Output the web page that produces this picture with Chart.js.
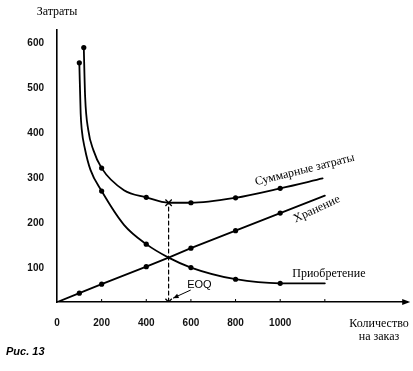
<!DOCTYPE html>
<html><head><meta charset="utf-8">
<script src="https://cdn.jsdelivr.net/npm/chart.js@4/dist/chart.umd.min.js"></script>
<style>html,body{margin:0;padding:0;background:#fff}#wrap{width:413px;height:371px;position:relative}canvas{display:block}</style>
</head><body><div id="wrap"><canvas id="c" width="413" height="371"></canvas></div>
<script>
// ---- data ----
const xTicks = [0, 200, 400, 600, 800, 1000, 1200];
const xTickLabels = ['0', '200', '400', '600', '800', '1000', ''];
const yTicks = [100, 200, 300, 400, 500, 600];

const totalQ    = [120, 126, 140, 163, 200, 300, 400, 500, 600, 800, 1000, 1190];
const totalCost = [590, 481, 407, 362, 322, 273, 257, 245, 245, 256, 277, 299];
const totalDots = [120, 200, 400, 600, 800, 1000];

const holdQ    = [0, 100, 200, 400, 500, 600, 800, 1000, 1200];
const holdCost = [24, 44, 64, 103, 123, 144, 183, 222, 261];
const holdDots = [100, 200, 400, 600, 800, 1000];

const orderQ    = [100, 106, 111, 125, 150, 200, 300, 400, 500, 600, 800, 1000, 1200];
const orderCost = [556, 444, 407, 365, 318, 271, 196, 153, 123, 101, 75, 66, 66];
const orderDots = [100, 200, 400, 600, 800, 1000];

const eoqQ = 500;
const eoqTotal = 245;
const yMin = 24.4, yMax = 629, xMax = 1569;

const seriesNames = ['Суммарные затраты', 'Хранение', 'Приобретение'];
const yTitle = 'Затраты';
const xTitle = ['Количество', 'на заказ'];
const eoqLabel = 'EOQ';
const caption = 'Рис. 13';

// ---- build ----
const pts = (xs, ys) => xs.map((x, i) => ({x, y: ys[i]}));
const dotR = list => ctx => (ctx.raw && list.includes(ctx.raw.x)) ? 2.6 : 0;

function lineDs(label, xs, ys, dots, tension) {
  return {
    label, data: pts(xs, ys), showLine: true,
    borderColor: '#000', backgroundColor: '#000', borderWidth: 1.8,
    cubicInterpolationMode: tension ? 'monotone' : 'default', tension: 0,
    pointRadius: dotR(dots), pointHoverRadius: 0, pointBorderWidth: 0,
    pointBackgroundColor: '#000'
  };
}

const serif = '"Liberation Serif", "Times New Roman", serif';
const sans = '"Liberation Sans", Arial, sans-serif';

const annot = {
  id: 'annot',
  afterDraw(chart) {
    const ctx = chart.ctx, xs = chart.scales.x, ys = chart.scales.y, a = chart.chartArea;
    const px = v => xs.getPixelForValue(v), py = v => ys.getPixelForValue(v);
    ctx.save();
    ctx.fillStyle = '#000'; ctx.strokeStyle = '#000';
    // small tick marks on the x axis
    ctx.lineWidth = 1;
    xTicks.slice(1).forEach(t => {
      ctx.beginPath(); ctx.moveTo(px(t), a.bottom); ctx.lineTo(px(t), a.bottom - 3); ctx.stroke();
    });
    // arrowhead of x axis
    ctx.beginPath();
    ctx.moveTo(a.right + 3, a.bottom);
    ctx.lineTo(a.right - 5, a.bottom - 3);
    ctx.lineTo(a.right - 5, a.bottom + 3);
    ctx.closePath(); ctx.fill();

    // axis titles
    ctx.font = '12px ' + serif;
    ctx.textAlign = 'center'; ctx.textBaseline = 'middle';
    ctx.fillText(yTitle, a.left, 12);
    ctx.fillText(xTitle[0], 379, 324);
    ctx.fillText(xTitle[1], 379, 337);

    // series labels
    const rot = (txt, x, y, ang) => {
      ctx.save(); ctx.translate(x, y); ctx.rotate(ang * Math.PI / 180);
      ctx.fillText(txt, 0, 0); ctx.restore();
    };
    rot(seriesNames[0], px(1110), py(318), -14);
    rot(seriesNames[1], px(1164), py(231), -25);
    rot(seriesNames[2], px(1218), py(87), 0);

    // EOQ label and arrow
    ctx.font = '11px ' + sans;
    ctx.fillText(eoqLabel, px(638), py(62));
    const x0 = px(599), y0 = py(51), x1 = px(520), y1 = py(33);
    ctx.lineWidth = 1;
    ctx.beginPath(); ctx.moveTo(x0, y0); ctx.lineTo(x1, y1); ctx.stroke();
    const ang = Math.atan2(y1 - y0, x1 - x0);
    ctx.beginPath();
    ctx.moveTo(x1, y1);
    ctx.lineTo(x1 - 6 * Math.cos(ang - 0.4), y1 - 6 * Math.sin(ang - 0.4));
    ctx.lineTo(x1 - 6 * Math.cos(ang + 0.4), y1 - 6 * Math.sin(ang + 0.4));
    ctx.closePath(); ctx.fill();

    // caption
    ctx.font = 'italic bold 11px ' + sans;
    ctx.textAlign = 'left';
    ctx.fillText(caption, 6, 352);
    ctx.restore();
  }
};

new Chart(document.getElementById('c'), {
  type: 'scatter',
  data: {
    datasets: [
      lineDs(seriesNames[0], totalQ, totalCost, totalDots, true),
      lineDs(seriesNames[1], holdQ, holdCost, holdDots, false),
      lineDs(seriesNames[2], orderQ, orderCost, orderDots, true),
      {
        label: 'EOQ line', data: [{x: eoqQ, y: yMin}, {x: eoqQ, y: eoqTotal}], showLine: true,
        borderColor: '#000', borderWidth: 1.2, borderDash: [4, 3], pointRadius: 0
      },
      {
        label: 'EOQ marks', data: [{x: eoqQ, y: yMin}, {x: eoqQ, y: eoqTotal}],
        pointStyle: 'crossRot', pointRadius: 4.5, borderColor: '#000', borderWidth: 1.3,
        backgroundColor: '#000', showLine: false
      }
    ]
  },
  options: {
    responsive: false, animation: false, devicePixelRatio: 1,
    layout: {padding: {left: 0, top: 30, right: 3, bottom: 0}},
    plugins: {legend: {display: false}, tooltip: {enabled: false}},
    elements: {line: {borderCapStyle: 'round'}},
    scales: {
      x: {
        type: 'linear', min: 0, max: xMax,
        afterBuildTicks: s => { s.ticks = xTicks.map(v => ({value: v})); },
        afterFit: s => { s.height = 69; },
        ticks: {callback: (v, i) => xTickLabels[i], color: '#111', font: {family: sans, size: 10, weight: 'bold'},
                padding: 7, maxRotation: 0, autoSkip: false},
        grid: {display: false},
        border: {display: true, color: '#000', width: 1.6}
      },
      y: {
        type: 'linear', min: yMin, max: yMax,
        afterBuildTicks: s => { s.ticks = yTicks.map(v => ({value: v})); },
        afterFit: s => { s.width = 57; },
        ticks: {color: '#111', font: {family: sans, size: 10, weight: 'bold'}, padding: 5},
        grid: {display: false},
        border: {display: true, color: '#000', width: 1.6}
      }
    }
  },
  plugins: [annot]
});
</script></body></html>
